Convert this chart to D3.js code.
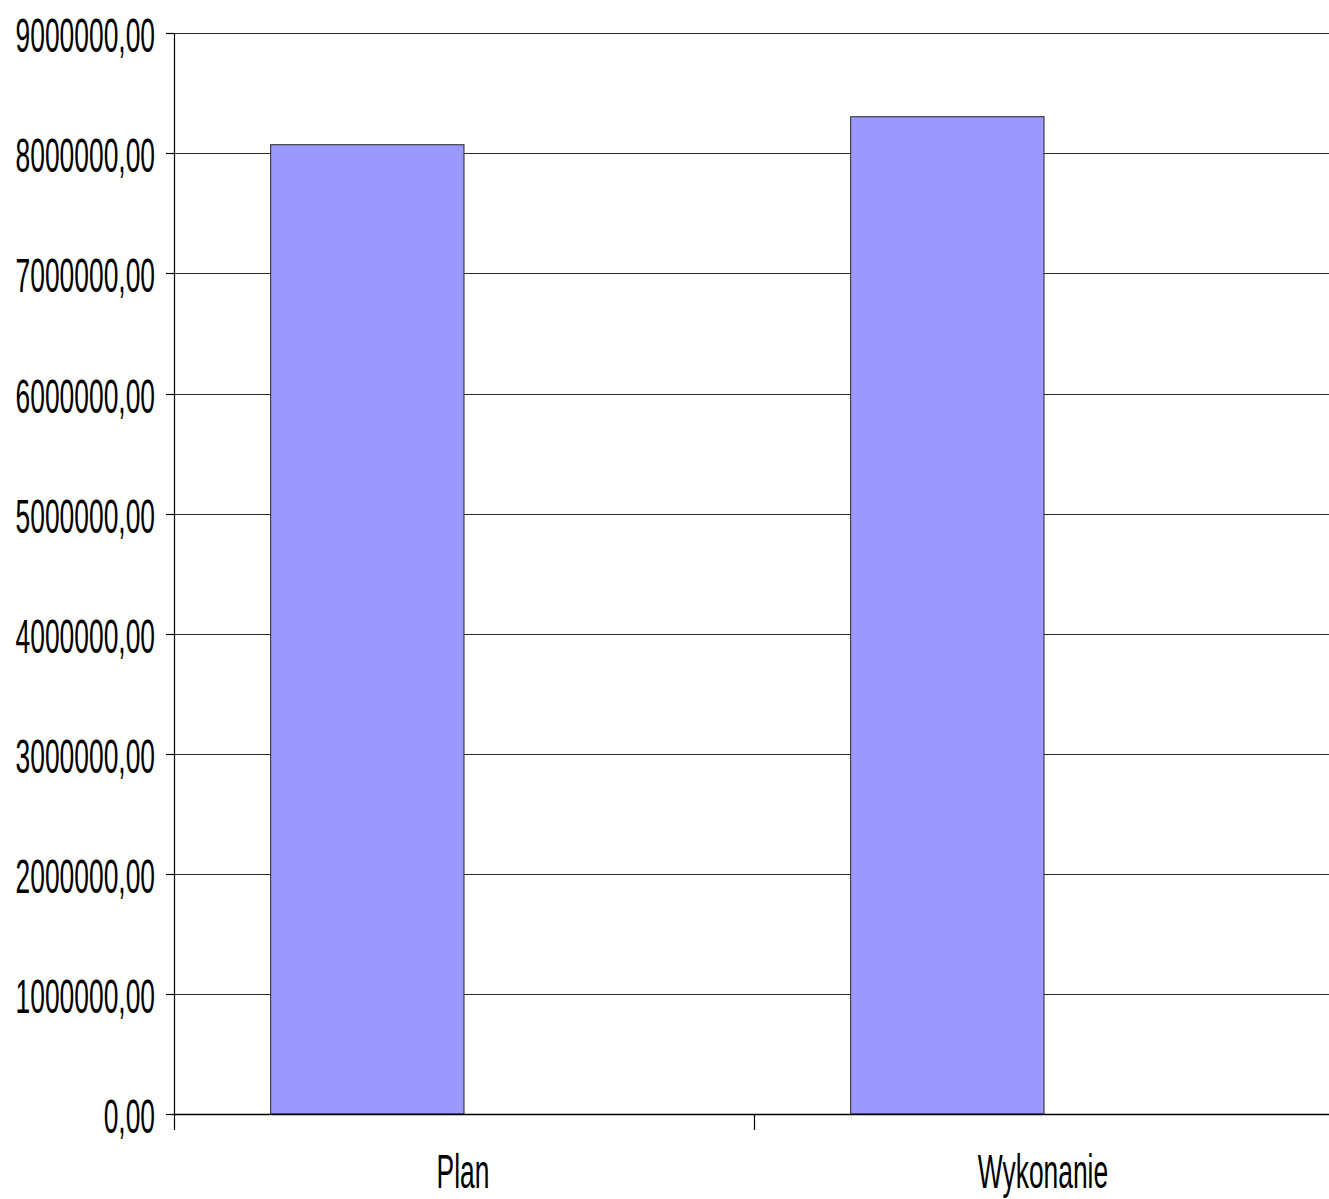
<!DOCTYPE html>
<html>
<head>
<meta charset="utf-8">
<script src="https://cdn.jsdelivr.net/npm/d3@7"></script>
<style>
  html, body { margin: 0; padding: 0; background: #fff; overflow: hidden; }
  svg { display: block; }
  text { font-family: "Liberation Sans", Arial, sans-serif; fill: #000; }
</style>
</head>
<body>
<script>
const categories = ["Plan", "Wykonanie"];
const values = [8072000, 8305000];
const yTicks = [0, 1000000, 2000000, 3000000, 4000000, 5000000, 6000000, 7000000, 8000000, 9000000];

const W = 1329, H = 1199;
const plotLeft = 174, plotRight = 1334, plotTop = 33.3, plotBottom = 1114;
const FONT = 48, SX = 0.55;

const svg = d3.select("body").append("svg").attr("width", W).attr("height", H);

const x = d3.scaleBand().domain(categories).range([plotLeft, plotRight]).paddingInner(0).paddingOuter(0);
const y = d3.scaleLinear().domain([0, 9000000]).range([plotBottom, plotTop]);

const loc = d3.formatLocale({decimal: ",", thousands: "", grouping: [3], currency: ["", ""]});
const fmt = loc.format(".2f");

// gridlines
svg.append("g").selectAll("line").data(yTicks.filter(d => d > 0)).join("line")
  .attr("x1", plotLeft).attr("x2", plotRight)
  .attr("y1", d => Math.round(y(d)) + 0.5).attr("y2", d => Math.round(y(d)) + 0.5)
  .attr("stroke", "#2a2a2a").attr("stroke-width", 1.2);

// bars (LibreOffice-style: bar occupies first third-slot of the group)
svg.append("g").selectAll("rect").data(categories).join("rect")
  .attr("x", d => x(d) + x.bandwidth() / 6)
  .attr("width", x.bandwidth() / 3)
  .attr("y", (d, i) => y(values[i]))
  .attr("height", (d, i) => plotBottom - y(values[i]))
  .attr("fill", "#9999ff")
  .attr("stroke", "#222")
  .attr("stroke-width", 1);

// y axis line
svg.append("line").attr("x1", plotLeft + 0.5).attr("x2", plotLeft + 0.5)
  .attr("y1", plotTop).attr("y2", plotBottom + 16).attr("stroke", "#000").attr("stroke-width", 1.2);
// x axis line
svg.append("line").attr("x1", plotLeft).attr("x2", plotRight)
  .attr("y1", plotBottom + 0.5).attr("y2", plotBottom + 0.5).attr("stroke", "#000").attr("stroke-width", 1.4);

// y ticks
svg.append("g").selectAll("line").data(yTicks).join("line")
  .attr("x1", plotLeft - 8).attr("x2", plotLeft)
  .attr("y1", d => Math.round(y(d)) + 0.5).attr("y2", d => Math.round(y(d)) + 0.5)
  .attr("stroke", "#000").attr("stroke-width", 1.2);

// x ticks at band boundaries
svg.append("g").selectAll("line").data(categories).join("line")
  .attr("x1", d => x(d) + x.bandwidth() + 0.5).attr("x2", d => x(d) + x.bandwidth() + 0.5)
  .attr("y1", plotBottom).attr("y2", plotBottom + 16)
  .attr("stroke", "#000").attr("stroke-width", 1.2);

// y labels
svg.append("g").selectAll("text").data(yTicks).join("text")
  .attr("transform", d => `translate(155, ${y(d) + 19}) scale(${SX},1)`)
  .attr("text-anchor", "end")
  .attr("font-size", FONT)
  .text(d => fmt(d));

// x labels
svg.append("g").selectAll("text").data(categories).join("text")
  .attr("transform", d => `translate(${x(d) + x.bandwidth() / 2 - 1}, 1188) scale(${SX},1)`)
  .attr("text-anchor", "middle")
  .attr("font-size", FONT)
  .text(d => d);
</script>
</body>
</html>
